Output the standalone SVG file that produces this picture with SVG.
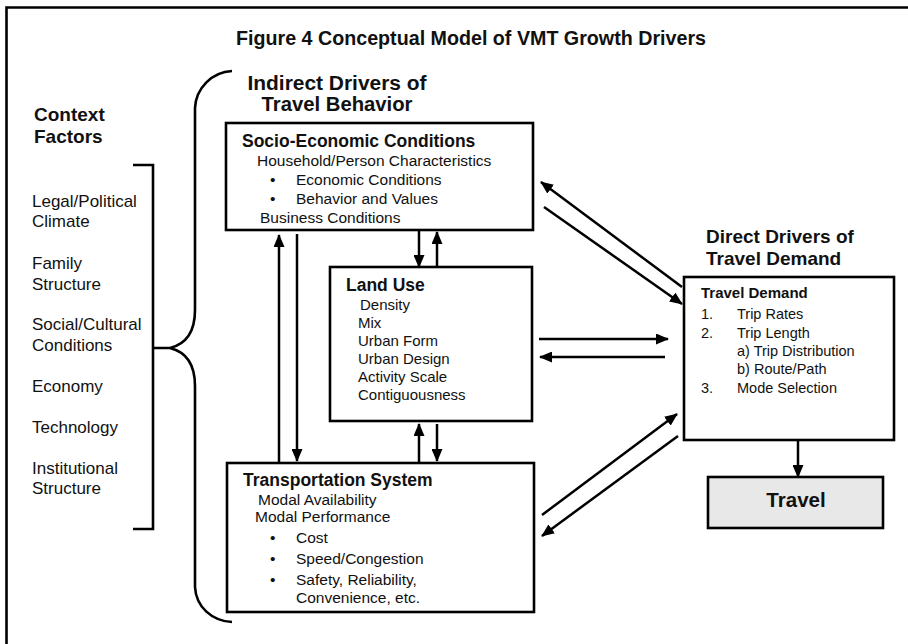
<svg xmlns="http://www.w3.org/2000/svg" width="908" height="644" viewBox="0 0 908 644">
  <style>
    .t { font-family: "Liberation Sans", Arial, sans-serif; fill: #111; }
    .h { font-weight: bold; }
    .box { fill: #fff; stroke: #000; stroke-width: 2.6; }
    .ln { fill: none; stroke: #000; stroke-width: 2.6; }
    .arr { fill: none; stroke: #000; stroke-width: 2.5; marker-end: url(#ah); }
  </style>
  <defs>
    <marker id="ah" markerUnits="userSpaceOnUse" markerWidth="13" markerHeight="11" refX="12" refY="5.5" orient="auto">
      <path d="M0,0 L13,5.5 L0,11 z" fill="#000"/>
    </marker>
  </defs>

  <rect width="908" height="644" fill="#fff"/>
  <!-- frame (top and left edges) -->
  <path class="ln" d="M6.5,644 V7.5 H908" stroke-width="3"/>

  <text class="t h" x="471" y="45" font-size="19.5" text-anchor="middle" textLength="470" lengthAdjust="spacingAndGlyphs">Figure 4  Conceptual Model of VMT Growth Drivers</text>

  <!-- context factors -->
  <g id="context">
    <text class="t h" x="34" y="121" font-size="19">Context</text>
    <text class="t h" x="34" y="143" font-size="19">Factors</text>
    <g class="t" font-size="17">
      <text x="32" y="207">Legal/Political</text>
      <text x="32" y="227">Climate</text>
      <text x="32" y="269">Family</text>
      <text x="32" y="290">Structure</text>
      <text x="32" y="330">Social/Cultural</text>
      <text x="32" y="351">Conditions</text>
      <text x="32" y="392">Economy</text>
      <text x="32" y="433">Technology</text>
      <text x="32" y="474">Institutional</text>
      <text x="32" y="494">Structure</text>
    </g>
    <path class="ln" d="M133,165 H153 V529 H133 M153,348 H170"/>
  </g>

  <!-- brace around indirect drivers -->
  <path class="ln" d="M232,71 C212,72 196,88 195,108 L195,310 C195,332 186,344 170,348 C186,352 195,364 195,386 L195,587 C196,607 212,621 232,622"/>

  <text class="t h" x="337" y="90" font-size="20" text-anchor="middle" textLength="179" lengthAdjust="spacingAndGlyphs">Indirect Drivers of</text>
  <text class="t h" x="337" y="111" font-size="20" text-anchor="middle" textLength="151" lengthAdjust="spacingAndGlyphs">Travel Behavior</text>

  <g id="socio">
    <rect class="box" x="226" y="123" width="307" height="107"/>
    <text class="t h" x="242" y="147" font-size="17.5">Socio-Economic Conditions</text>
    <g class="t" font-size="15.5">
      <text x="257" y="166">Household/Person Characteristics</text>
      <text x="270" y="185">•</text>
      <text x="296" y="185">Economic Conditions</text>
      <text x="270" y="204">•</text>
      <text x="296" y="204">Behavior and Values</text>
      <text x="260" y="223">Business Conditions</text>
    </g>
  </g>

  <g id="landuse">
    <rect class="box" x="330" y="267" width="202" height="154"/>
    <text class="t h" x="346" y="291" font-size="17.5">Land Use</text>
    <g class="t" font-size="15">
      <text x="360" y="310">Density</text>
      <text x="358" y="328">Mix</text>
      <text x="358" y="346">Urban Form</text>
      <text x="358" y="364">Urban Design</text>
      <text x="358" y="382">Activity Scale</text>
      <text x="358" y="400">Contiguousness</text>
    </g>
  </g>

  <g id="transport">
    <rect class="box" x="227" y="463" width="307" height="149"/>
    <text class="t h" x="243" y="486" font-size="17.5">Transportation System</text>
    <g class="t" font-size="15.5">
      <text x="258" y="505">Modal Availability</text>
      <text x="255" y="522">Modal Performance</text>
      <text x="270" y="543">•</text>
      <text x="296" y="543">Cost</text>
      <text x="270" y="564">•</text>
      <text x="296" y="564">Speed/Congestion</text>
      <text x="270" y="585">•</text>
      <text x="296" y="585">Safety, Reliability,</text>
      <text x="296" y="603">Convenience, etc.</text>
    </g>
  </g>

  <text class="t h" x="706" y="243" font-size="19">Direct Drivers of</text>
  <text class="t h" x="706" y="265" font-size="19">Travel Demand</text>

  <g id="demand">
    <rect class="box" x="684" y="277" width="210" height="163"/>
    <text class="t h" x="701" y="298" font-size="15">Travel Demand</text>
    <g class="t" font-size="14.5">
      <text x="701" y="319">1.</text>
      <text x="737" y="319">Trip Rates</text>
      <text x="701" y="338">2.</text>
      <text x="737" y="338">Trip Length</text>
      <text x="737" y="356">a) Trip Distribution</text>
      <text x="737" y="374">b) Route/Path</text>
      <text x="701" y="393">3.</text>
      <text x="737" y="393">Mode Selection</text>
    </g>
  </g>

  <g id="travel">
    <rect class="box" x="708" y="477" width="175" height="51" style="fill:#e8e8e8"/>
    <text class="t h" x="796" y="507" font-size="20.5" text-anchor="middle">Travel</text>
  </g>

  <g id="connectors">
    <line class="arr" x1="419" y1="231" x2="419" y2="267"/>
    <line class="arr" x1="437" y1="267" x2="437" y2="232"/>
    <line class="arr" x1="279" y1="463" x2="279" y2="235"/>
    <line class="arr" x1="297" y1="234" x2="297" y2="461"/>
    <line class="arr" x1="419" y1="463" x2="419" y2="424"/>
    <line class="arr" x1="437" y1="424" x2="437" y2="461"/>
    <line class="arr" x1="682" y1="287" x2="541" y2="182"/>
    <line class="arr" x1="544" y1="207" x2="682" y2="304"/>
    <line class="arr" x1="539" y1="339" x2="668" y2="339"/>
    <line class="arr" x1="665" y1="357" x2="540" y2="357"/>
    <line class="arr" x1="542" y1="515" x2="677" y2="414"/>
    <line class="arr" x1="678" y1="436" x2="542" y2="536"/>
    <line class="arr" x1="798" y1="440" x2="798" y2="477" stroke-width="2"/>
  </g>
</svg>
